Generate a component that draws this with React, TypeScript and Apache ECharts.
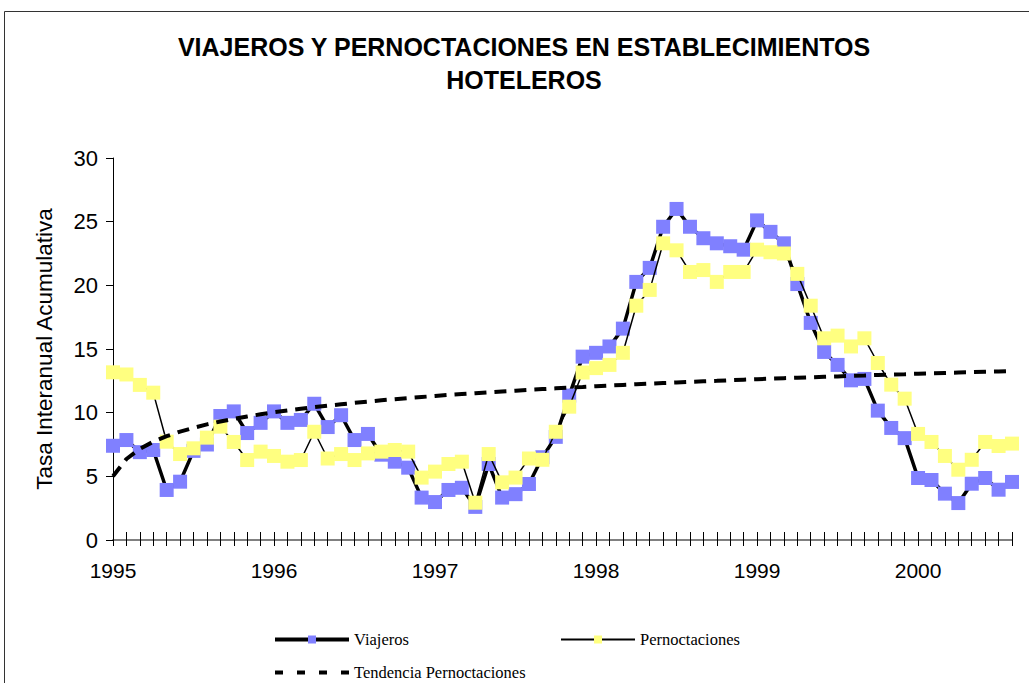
import React, { useEffect, useRef } from "react";
import * as echarts from "echarts";

const months = ["ene", "feb", "mar", "abr", "may", "jun", "jul", "ago", "sep", "oct", "nov", "dic"];
const years = ["1995", "1996", "1997", "1998", "1999", "2000"];

const viajeros = [
  7.4, 7.85, 6.9, 7.07, 3.93, 4.58, 7.0, 7.5, 9.74, 10.1, 8.4, 9.2,
  10.1, 9.2, 9.43, 10.7, 8.87, 9.8, 7.85, 8.33, 6.7, 6.15, 5.68, 3.33,
  2.98, 3.93, 4.1, 2.6, 5.97, 3.33, 3.6, 4.4, 6.5, 8.1, 11.34, 14.4,
  14.7, 15.2, 16.6, 20.27, 21.37, 24.6, 26.0, 24.6, 23.7, 23.3, 23.07, 22.8,
  25.1, 24.2, 23.3, 20.1, 17.05, 14.77, 13.75, 12.54, 12.65, 10.16, 8.8, 8.0,
  4.87, 4.71, 3.64, 2.9, 4.42, 4.87, 3.95, 4.56,
];

const pernoctaciones = [
  13.17, 13.0, 12.18, 11.57, 7.72, 6.75, 7.2, 8.04, 8.9, 7.7, 6.28, 6.94,
  6.6, 6.15, 6.28, 8.5, 6.4, 6.75, 6.28, 6.8, 6.94, 7.07, 6.94, 4.9,
  5.37, 5.97, 6.15, 2.93, 6.75, 4.53, 4.9, 6.4, 6.3, 8.5, 10.47, 13.15,
  13.5, 13.75, 14.7, 18.4, 19.64, 23.3, 22.75, 21.05, 21.2, 20.27, 21.05, 21.05,
  22.8, 22.6, 22.5, 20.9, 18.4, 15.84, 16.05, 15.2, 15.84, 13.9, 12.2, 11.1,
  8.33, 7.7, 6.6, 5.52, 6.3, 7.7, 7.38, 7.57,
];

const tendencia = [
  5.0, 6.36, 7.15, 7.72, 8.15, 8.51, 8.81, 9.08, 9.31, 9.51, 9.7, 9.87,
  10.03, 10.17, 10.31, 10.43, 10.55, 10.66, 10.77, 10.87, 10.97, 11.06, 11.15, 11.23,
  11.31, 11.39, 11.46, 11.53, 11.6, 11.67, 11.73, 11.79, 11.85, 11.91, 11.97, 12.02,
  12.08, 12.13, 12.18, 12.23, 12.28, 12.33, 12.37, 12.42, 12.46, 12.5, 12.55, 12.59,
  12.63, 12.67, 12.71, 12.74, 12.78, 12.82, 12.85, 12.89, 12.92, 12.96, 12.99, 13.02,
  13.06, 13.09, 13.12, 13.15, 13.18, 13.21, 13.24, 13.27,
];

const yTicks = { min: 0, max: 30, interval: 5 };

const categories: string[] = [];
for (const y of years) {
  for (const m of months) {
    if (categories.length < viajeros.length) categories.push(m + "-" + y);
  }
}

const SANS = "'Liberation Sans', Arial, sans-serif";
const SERIF = "'Liberation Serif', 'Times New Roman', serif";

export default function App() {
  const ref = useRef<HTMLDivElement>(null);
  useEffect(() => {
    if (!ref.current) return;
    const chart = echarts.init(ref.current, undefined, { renderer: "svg" });
    const legendText = { fontFamily: SERIF, fontSize: 16.5, color: "#000" };
    chart.setOption({
      animation: false,
      backgroundColor: "#fff",
      graphic: [
        {
          type: "rect",
          shape: { x: 4.5, y: 11.5, width: 1100, height: 1000 },
          style: { fill: "none", stroke: "#333", lineWidth: 1 },
          silent: true,
          z: -10,
        },
        {
          type: "text",
          x: 524,
          y: 47,
          style: {
            text: "VIAJEROS Y PERNOCTACIONES EN ESTABLECIMIENTOS",
            font: "bold 25px " + SANS,
            fill: "#000",
            align: "center",
            verticalAlign: "middle",
          },
        },
        {
          type: "text",
          x: 524,
          y: 80,
          style: {
            text: "HOTELEROS",
            font: "bold 25px " + SANS,
            fill: "#000",
            align: "center",
            verticalAlign: "middle",
          },
        },
      ],
      legend: [
        {
          data: ["Viajeros"],
          left: 273,
          top: 631,
          padding: 0,
          itemWidth: 74,
          itemHeight: 10,
          lineStyle: { width: 4 },
          textStyle: legendText,
        },
        {
          data: ["Pernoctaciones"],
          left: 560,
          top: 631,
          padding: 0,
          itemWidth: 74,
          itemHeight: 10,
          lineStyle: { width: 2 },
          textStyle: legendText,
        },
        {
          data: [
            { name: "Tendencia Pernoctaciones", itemStyle: { opacity: 0 } },
          ],
          left: 273,
          top: 664,
          padding: 0,
          itemWidth: 74,
          itemHeight: 10,
          lineStyle: { width: 4, type: [8, 14] },
          textStyle: legendText,
        },
      ],
      grid: { left: 113, right: 17, top: 158, bottom: 143, containLabel: false },
      xAxis: [
        {
          type: "category",
          data: categories,
          boundaryGap: false,
          position: "bottom",
          axisLine: { show: true, lineStyle: { color: "#808080", width: 2 } },
          axisTick: { show: true, interval: 0, length: 6, lineStyle: { color: "#000", width: 1 } },
          axisLabel: {
            interval: 11,
            margin: 20,
            fontFamily: SANS,
            fontSize: 21,
            color: "#000",
            formatter: (v: string) => v.split("-")[1],
          },
          splitLine: { show: false },
        },
        {
          type: "category",
          data: categories,
          boundaryGap: false,
          position: "bottom",
          axisLine: { show: false },
          axisTick: { show: true, inside: true, interval: 0, length: 8, lineStyle: { color: "#000", width: 1 } },
          axisLabel: { show: false },
          splitLine: { show: false },
        },
      ],
      yAxis: {
        type: "value",
        min: yTicks.min,
        max: yTicks.max,
        interval: yTicks.interval,
        name: "Tasa Interanual Acumulativa",
        nameLocation: "middle",
        nameGap: 57,
        nameTextStyle: { fontFamily: SANS, fontSize: 22.5, color: "#000" },
        axisLine: { show: true, lineStyle: { color: "#000", width: 1 } },
        axisTick: { show: true, length: 7, lineStyle: { color: "#000" } },
        axisLabel: { fontFamily: SANS, fontSize: 22, color: "#000", margin: 15 },
        splitLine: { show: false },
      },
      series: [
        {
          name: "Viajeros",
          type: "line",
          data: viajeros,
          symbol: "rect",
          symbolSize: 14,
          showAllSymbol: true,
          itemStyle: { color: "#8080FF", borderWidth: 0 },
          lineStyle: { color: "#000", width: 3.5 },
          z: 2,
        },
        {
          name: "Pernoctaciones",
          type: "line",
          data: pernoctaciones,
          symbol: "rect",
          symbolSize: 14,
          showAllSymbol: true,
          itemStyle: { color: "#FFFF80", borderWidth: 0 },
          lineStyle: { color: "#000", width: 1.5 },
          z: 3,
        },
        {
          name: "Tendencia Pernoctaciones",
          type: "line",
          data: tendencia,
          symbol: "none",
          itemStyle: { color: "#000" },
          lineStyle: { color: "#000", width: 4, type: [12, 8] },
          z: 4,
        },
      ],
    });
    return () => chart.dispose();
  }, []);
  return (
    <div
      ref={ref}
      style={{ position: "absolute", left: 0, top: 0, width: 1029, height: 683 }}
    />
  );
}
